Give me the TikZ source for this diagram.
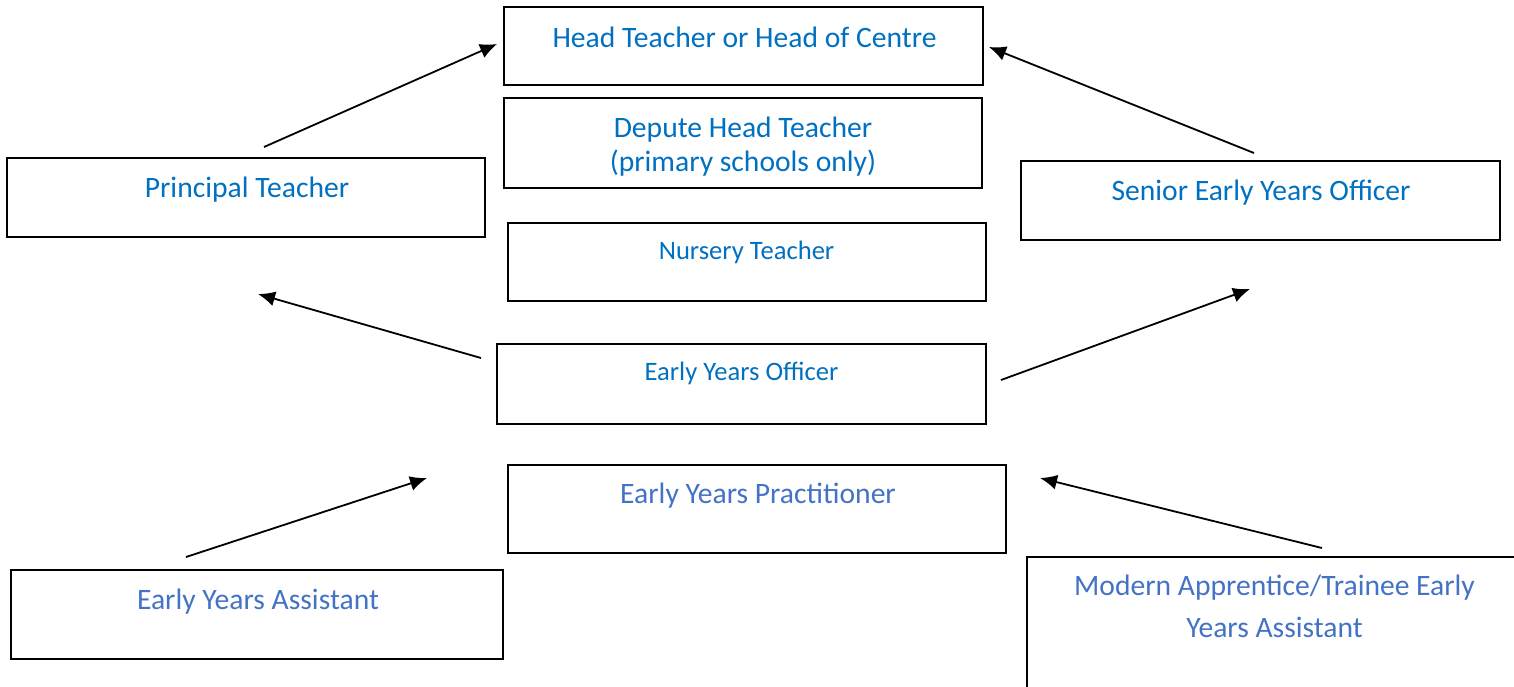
\documentclass[tikz,border=0pt]{standalone}
\usepackage{fontspec}
\setmainfont{Carlito}
\usetikzlibrary{arrows.meta}
\definecolor{blueA}{HTML}{0070C0}
\definecolor{blueB}{HTML}{4472C4}
\tikzset{
  box/.style={draw=black, line width=1pt, inner sep=0pt, outer sep=0pt, rectangle},
  bigtxt/.style={font=\fontsize{14.8}{17}\selectfont, inner sep=0pt, anchor=base},
  smalltxt/.style={font=\fontsize{13.3}{16}\selectfont, inner sep=0pt, anchor=base},
  conn/.style={line width=0.9pt, -{Latex[length=8.5pt,width=7.5pt]}}
}
\begin{document}
\begin{tikzpicture}[x=0.5pt,y=-0.5pt]
\useasboundingbox (0,0) rectangle (1514,686);
\clip (0,0) rectangle (1514,686);
% boxes
\node[box, minimum width=479*0.5pt, minimum height=78*0.5pt] (head) at (743.5,46) {};
\node[box, minimum width=478*0.5pt, minimum height=90*0.5pt] (depute) at (743,143) {};
\node[box, minimum width=478*0.5pt, minimum height=79*0.5pt] (principal) at (246,197.5) {};
\node[box, minimum width=479*0.5pt, minimum height=79*0.5pt] (senior) at (1260.5,200.5) {};
\node[box, minimum width=478*0.5pt, minimum height=78*0.5pt] (nursery) at (747,262) {};
\node[box, minimum width=489*0.5pt, minimum height=80*0.5pt] (eyo) at (741.5,384) {};
\node[box, minimum width=498*0.5pt, minimum height=88*0.5pt] (pract) at (757,509) {};
\node[box, minimum width=492*0.5pt, minimum height=89*0.5pt] (assist) at (257,614.5) {};
\node[box, minimum width=494*0.5pt, minimum height=150*0.5pt] (modern) at (1274,632) {};
% texts
\node[bigtxt, text=blueA] (headt) at (744.5,47) {Head Teacher or Head of Centre};
\node[bigtxt, text=blueA] (deputet1) at (743,137) {Depute Head Teacher};
\node[bigtxt, text=blueA] (deputet2) at (743,171) {(primary schools only)};
\node[bigtxt, text=blueA] (principalt) at (247,197) {Principal Teacher};
\node[bigtxt, text=blueA] (seniort) at (1261,200) {Senior Early Years Officer};
\node[smalltxt, text=blueA] (nurseryt) at (746.5,259) {Nursery Teacher};
\node[smalltxt, text=blueA] (eyot) at (741.5,380) {Early Years Officer};
\node[bigtxt, text=blueB] (practt) at (758,503) {Early Years Practitioner};
\node[bigtxt, text=blueB] (assistt) at (258,609) {Early Years Assistant};
\node[bigtxt, text=blueB] (modernt1) at (1274.5,595) {Modern Apprentice/Trainee Early};
\node[bigtxt, text=blueB] (modernt2) at (1274.5,637) {Years Assistant};
% arrow end points
\coordinate (a1s) at (264,147); \coordinate (a1e) at (497,44);
\coordinate (a2s) at (1254,153); \coordinate (a2e) at (989,47);
\coordinate (a3s) at (481,358); \coordinate (a3e) at (258,294);
\coordinate (a4s) at (1001,380); \coordinate (a4e) at (1250,289);
\coordinate (a5s) at (186,557); \coordinate (a5e) at (427,478);
\coordinate (a6s) at (1322,548); \coordinate (a6e) at (1040,478);
\draw[conn] (a1s) -- (a1e);
\draw[conn] (a2s) -- (a2e);
\draw[conn] (a3s) -- (a3e);
\draw[conn] (a4s) -- (a4e);
\draw[conn] (a5s) -- (a5e);
\draw[conn] (a6s) -- (a6e);
\end{tikzpicture}
\end{document}
